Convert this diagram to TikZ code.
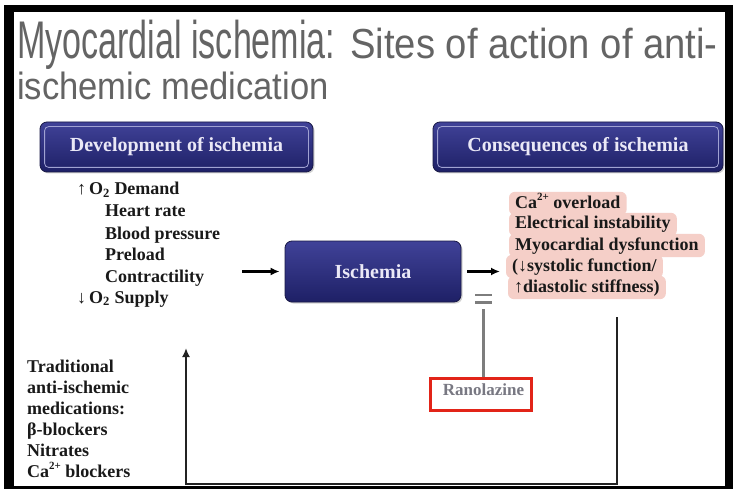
\documentclass[tikz,border=0pt]{standalone}
\usepackage{graphicx}
\usepackage{fontspec}
\setmainfont{Liberation Serif}
\newfontfamily\titlefont{Liberation Sans}
\usetikzlibrary{arrows.meta,backgrounds,shadows}
\definecolor{titlegray}{RGB}{100,100,100}
\definecolor{navytop}{RGB}{64,66,152}
\definecolor{navybot}{RGB}{30,32,102}
\definecolor{navyedge}{RGB}{25,25,70}
\definecolor{boxtext}{RGB}{234,232,246}
\definecolor{innerline}{RGB}{160,162,210}
\definecolor{pinkhl}{RGB}{245,207,200}
\definecolor{ranored}{RGB}{226,36,24}
\definecolor{ranogray}{RGB}{120,120,130}
\definecolor{linegray}{RGB}{125,125,125}
\definecolor{darkline}{RGB}{35,35,35}
\definecolor{textdark}{RGB}{25,25,25}
\newcommand{\supsmall}[1]{\raisebox{0.42em}{\fontsize{11}{12}\selectfont #1}}
\begin{document}
\begin{tikzpicture}[x=1pt,y=-1pt,
  navybox/.style={rounded corners=7pt, top color=navytop, bottom color=navybot,
    draw=navyedge, line width=0.8pt, text=boxtext, inner sep=0pt,
    font=\fontsize{20}{24}\selectfont\bfseries,
    drop shadow={opacity=0.35,shadow xshift=1.5pt,shadow yshift=-1.5pt}},
  innerframe/.style={draw=innerline, line width=0.8pt, rounded corners=4pt},
  titlestyle/.style={inner sep=0pt, anchor=base west, text=titlegray, font=\titlefont},
  listtext/.style={inner sep=0pt, anchor=base west, text=textdark,
    font=\fontsize{18}{21}\selectfont\bfseries},
  conslist/.style={listtext, text height=13pt, text depth=4pt},
  hl/.style={fill=pinkhl, rounded corners=6pt},
  arr/.style={draw=black, line width=2.2pt, -{Latex[length=9pt,width=8pt]}},
  grayconn/.style={draw=linegray, line width=2.5pt},
  fbconn/.style={draw=darkline, line width=2.5pt},
]
\useasboundingbox (0,0) rectangle (736,489);
\begin{pgfonlayer}{background}
  \fill[white] (0,0) rectangle (736,489);
  \fill[black] (4,5) rectangle (733,489);
  \fill[white] (14,12) rectangle (725,486);
\end{pgfonlayer}

% title
\node[titlestyle] (title1) at (17,59) {\fontsize{53}{60}\selectfont\scalebox{0.643}[1]{Myocardial ischemia:}};
\node[titlestyle] (title2) at (350,59) {\fontsize{42}{48}\selectfont\scalebox{0.91}[1]{Sites of action of anti-}};
\node[titlestyle] (title3) at (17,100) {\fontsize{38}{44}\selectfont\scalebox{0.91}[1]{ischemic medication}};

% header boxes
\node[navybox, minimum width=273pt, minimum height=50pt] (dev) at (176.5,147) {Development of ischemia};
\draw[innerframe] ([xshift=5pt,yshift=-5pt]dev.north west) rectangle ([xshift=-5pt,yshift=5pt]dev.south east);
\node[navybox, minimum width=290pt, minimum height=50pt] (cons) at (578,147) {Consequences of ischemia};
\draw[innerframe] ([xshift=5pt,yshift=-5pt]cons.north west) rectangle ([xshift=-5pt,yshift=5pt]cons.south east);
\node[navybox, minimum width=176pt, minimum height=61pt] (isch) at (373,271.5) {Ischemia};

% development list
\node[listtext] (d1) at (77,195) {↑\,O\textsubscript{2} Demand};
\node[listtext] (d2) at (105,217) {Heart rate};
\node[listtext] (d3) at (105,239) {Blood pressure};
\node[listtext] (d4) at (105,260) {Preload};
\node[listtext] (d5) at (105,282) {Contractility};
\node[listtext] (d6) at (77,303) {↓\,O\textsubscript{2} Supply};

% consequences list
\node[conslist] (c1) at (515,208) {Ca\supsmall{2+} overload};
\node[conslist] (c2) at (515,229) {Electrical instability};
\node[conslist] (c3) at (515,250) {Myocardial dysfunction};
\node[conslist] (c4) at (512,271) {(↓systolic function/};
\node[conslist] (c5) at (514,292) {↑diastolic stiffness)};
\begin{pgfonlayer}{background}
  \foreach \n in {c1,c2,c3,c4,c5}{
    \fill[hl] ([xshift=-6pt,yshift=3pt]\n.north west) rectangle ([xshift=6pt,yshift=-3pt]\n.south east);
  }
\end{pgfonlayer}

% medications list
\node[listtext] (m1) at (27,372) {Traditional};
\node[listtext] (m2) at (27,393) {anti-ischemic};
\node[listtext] (m3) at (27,414) {medications:};
\node[listtext] (m4) at (27,435) {β-blockers};
\node[listtext] (m5) at (27,456) {Nitrates};
\node[listtext] (m6) at (27,477) {Ca\supsmall{2+} blockers};

% main arrows
\coordinate (a1) at (242,271.5);
\draw[arr] (a1) -- ([xshift=-5pt]isch.west);
\coordinate (a2) at (500,271.5);
\draw[arr] ([xshift=6pt]isch.east) -- (a2);

% ranolazine
\draw[grayconn] (475,295) -- (492,295);
\draw[grayconn] (475,302.5) -- (492,302.5);
\coordinate (eq) at (483.5,309);
\node[draw=ranored, line width=3pt, minimum width=101pt, minimum height=32pt, inner sep=0pt] (rano) at (481,394.5) {};
\node[inner sep=0pt, anchor=base, text=ranogray, font=\fontsize{17}{20}\selectfont\bfseries] (ranotext) at (483.5,395) {Ranolazine};
\draw[grayconn] (eq) -- (eq |- rano.north);

% feedback path
\coordinate (fbstart) at (617,317);
\coordinate (fbcorner) at (186,484);
\coordinate (fbend) at (186,348);
\draw[fbconn, -{Latex[length=9pt,width=8pt]}] (fbstart) |- (fbcorner) -- (fbend);
\end{tikzpicture}
\end{document}
